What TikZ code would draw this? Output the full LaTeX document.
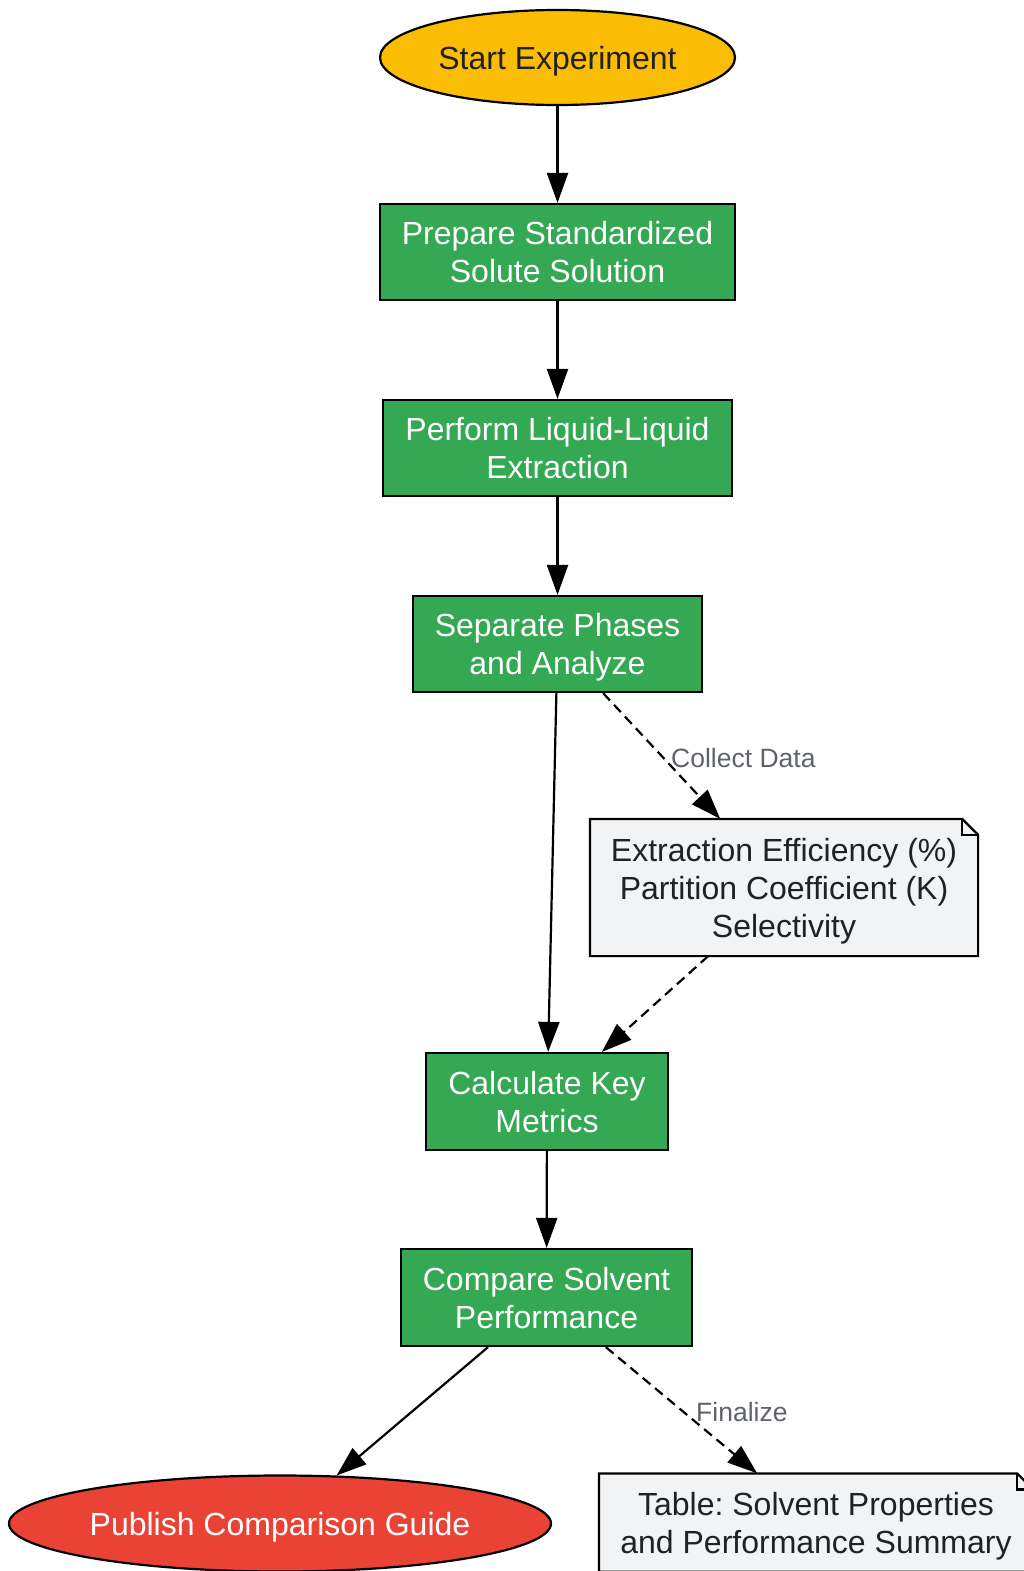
\documentclass[tikz,border=0pt]{standalone}
\usepackage{fontspec}
\setmainfont{Liberation Sans}
\usetikzlibrary{arrows.meta,shapes.geometric}
\frenchspacing
\definecolor{cyellow}{HTML}{FBBC04}
\definecolor{cgreen}{HTML}{34A853}
\definecolor{cred}{HTML}{EA4335}
\definecolor{cnote}{HTML}{F1F3F4}
\definecolor{cdark}{HTML}{202124}
\definecolor{cgray}{HTML}{5F6368}
\tikzset{
  base/.style={draw=black, line width=2.2pt, inner sep=0pt, align=center, text depth=0pt,
    font=\fontsize{32}{38}\selectfont},
  oval/.style={base, ellipse},
  stepbox/.style={base, rectangle, fill=cgreen, text=white},
  notebox/.style={base, draw=none, rectangle, text=cdark},
  notepath/.style={draw=black, line width=2.2pt, line join=miter},
  arr/.style={line width=2.2pt, -{Triangle[length=30pt,width=21pt]}},
  darr/.style={arr, dash pattern=on 10pt off 6pt},
  lbl/.style={text=cgray, font=\fontsize{26.5}{30}\selectfont, inner sep=0pt}
}
\newcommand{\notefold}[2]{%
  \fill[cnote] (#1.north west) -- ([xshift=-#2]#1.north east) -- ([yshift=-#2]#1.north east) -- (#1.south east) -- (#1.south west) -- cycle;
  \draw[notepath] (#1.north west) -- ([xshift=-#2]#1.north east) -- ([yshift=-#2]#1.north east) -- (#1.south east) -- (#1.south west) -- cycle;
  \draw[notepath] ([xshift=-#2]#1.north east) -- ([xshift=-#2,yshift=-#2]#1.north east) -- ([yshift=-#2]#1.north east);
}
\begin{document}
\begin{tikzpicture}[x=1pt,y=-1pt]
\useasboundingbox (0,0) rectangle (1024,1571);
\node[oval, fill=cyellow, text=cdark, minimum width=355pt, minimum height=95pt] (start) at (557.5,57.5) {Start Experiment};
\node[stepbox, minimum width=355pt, minimum height=96pt] (prep) at (557.5,252) {Prepare Standardized\\Solute Solution};
\node[stepbox, minimum width=349pt, minimum height=96pt] (lle) at (557.5,448) {Perform Liquid-Liquid\\Extraction};
\node[stepbox, minimum width=289pt, minimum height=96pt] (sep) at (557.5,644) {Separate Phases\\and Analyze};
\node[notebox, minimum width=386pt, minimum height=135pt] (data) at (784,887.5) {};
\notefold{data}{16pt}
\node[notebox, minimum width=386pt, minimum height=135pt] (datatext) at (784,887.5) {Extraction Efficiency (\%)\\Partition Coefficient (K)\\Selectivity};
\node[stepbox, minimum width=242pt, minimum height=97pt] (calc) at (547,1101.5) {Calculate Key\\Metrics};
\node[stepbox, minimum width=291pt, minimum height=97pt] (comp) at (546.5,1297.5) {Compare Solvent\\Performance};
\node[oval, fill=cred, text=white, minimum width=542pt, minimum height=96pt] (pub) at (280,1523.5) {Publish Comparison Guide};
\node[notebox, minimum width=432pt, minimum height=96pt] (tab) at (816,1522.5) {};
\notefold{tab}{16pt}
\node[notebox, minimum width=432pt, minimum height=96pt] (tabtext) at (816,1522.5) {Table: Solvent Properties\\and Performance Summary};

\draw[arr] (start) -- (prep);
\draw[arr] (prep) -- (lle);
\draw[arr] (lle) -- (sep);
\draw[arr] (sep) -- (calc);
\draw[darr] (sep) -- (data);
\draw[darr] (data) -- (calc);
\draw[arr] (calc) -- (comp);
\draw[arr] (comp) -- (pub);
\draw[darr] (comp) -- (tab);
\node[lbl, anchor=west] (l1) at (671,758) {Collect Data};
\node[lbl, anchor=west] (l2) at (696,1412) {Finalize};
\end{tikzpicture}
\end{document}
